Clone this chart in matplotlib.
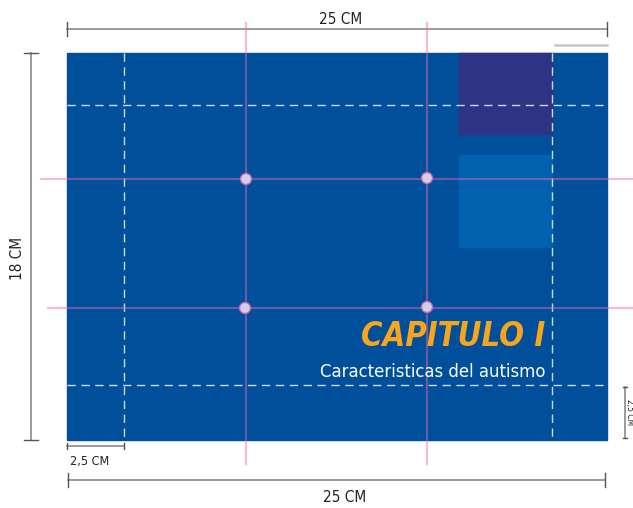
import matplotlib.pyplot as plt
from matplotlib import font_manager as fm
from matplotlib.patches import Rectangle, Circle

# layout in pixel units of the 633x508 sheet
page = (67, 53, 607, 440)            # x0, y0, x1, y1 of the blue cover
margin_x = [124, 552]                # white dashed guides
margin_y = [105, 385]
thirds_x = [246, 427]                # pink guide lines
thirds_y = [179, 308]
points = [(246, 179), (427, 178), (245, 308), (427, 307)]
blocks = [(459, 53, 552, 134, "#2e3383"), (459, 155, 552, 247, "#0061ae")]
title = "CAPITULO I"
subtitle = "Caracteristicas del autismo"
dims = ["25 CM", "18 CM", "2,5 CM", "25 CM", "2,5 CM"]

# pick a narrow face if one is installed
narrow = [f.name for f in fm.fontManager.ttflist
          if "Narrow" in f.name or "Condensed" in f.name or "condensed" in str(f.stretch)]
font = ([narrow[0]] if narrow else []) + ["Roboto", "DejaVu Sans"]
stretch = "condensed" if narrow else "normal"
grey = "#8a8a8a"
pink = "#ea6ab4"

fig = plt.figure(figsize=(6.33, 5.08), dpi=100)
ax = fig.add_axes([0, 0, 1, 1])
ax.set_xlim(0, 633)
ax.set_ylim(508, 0)
ax.axis("off")

x0, y0, x1, y1 = page
ax.add_patch(Rectangle((x0, y0), x1 - x0, y1 - y0, color="#004f9b", zorder=1))
for bx0, by0, bx1, by1, c in blocks:
    ax.add_patch(Rectangle((bx0, by0), bx1 - bx0, by1 - by0, color=c, zorder=2))

for x in margin_x:
    ax.plot([x, x], [y0, y1], color="white", lw=1, ls=(0, (6, 4)), alpha=0.8, zorder=3)
for y in margin_y:
    ax.plot([x0, x1], [y, y], color="white", lw=1, ls=(0, (6, 4)), alpha=0.8, zorder=3)

for x in thirds_x:
    ax.plot([x, x], [23, 464], color=pink, lw=1.6, alpha=0.45, zorder=4)
ax.plot([41, 633], [thirds_y[0], thirds_y[0]], color=pink, lw=1.6, alpha=0.45, zorder=4)
ax.plot([48, 633], [thirds_y[1], thirds_y[1]], color=pink, lw=1.6, alpha=0.45, zorder=4)
for px, py in points:
    ax.add_patch(Circle((px, py), 5.5, facecolor="#d6cdea", edgecolor="#c86aaa", lw=1, zorder=5))


def fit(txt, width):
    # shrink a text until it is no wider than the reference
    fig.canvas.draw()
    w = txt.get_window_extent().width
    if w > width:
        txt.set_fontsize(txt.get_fontsize() * width / w)


t1 = ax.text(545, 346, title, color="#f7a51c", fontsize=28, style="italic", weight="bold",
             family=font, fontstretch=stretch, ha="right", va="baseline", zorder=6)
t2 = ax.text(545, 377, subtitle, color="white", fontsize=18,
             family=font, fontstretch=stretch, ha="right", va="baseline", zorder=6)
fit(t1, 184)
fit(t2, 226)


def hdim(xa, xb, y, t=7):
    ax.plot([xa, xb], [y, y], color=grey, lw=1.2)
    for x in (xa, xb):
        ax.plot([x, x], [y - t, y + t], color="#555555", lw=1)


def vdim(x, ya, yb, t=7):
    ax.plot([x, x], [ya, yb], color=grey, lw=1.2)
    for y in (ya, yb):
        ax.plot([x - t, x + t], [y, y], color="#555555", lw=1)


kw = dict(family=font, fontstretch=stretch, color="#222222", va="center")

hdim(67, 607, 29)
ax.text(341, 19, dims[0], fontsize=11, ha="center", **kw)
ax.plot([555, 607], [45, 45], color="#c8c8c8", lw=1.8)

vdim(31, 53, 440)
ax.text(18, 258, dims[1], fontsize=11, rotation=90, ha="center", **kw)

hdim(67, 124, 446, t=3)
ax.text(70, 462, dims[2], fontsize=9, ha="left", **kw)

hdim(68, 605, 480)
ax.text(345, 497, dims[3], fontsize=11, ha="center", **kw)

vdim(625, 387, 438, t=2)
ax.text(629, 412, dims[4], fontsize=6, rotation=-90, ha="center", **kw)

fig.savefig("out.png", dpi=100)
